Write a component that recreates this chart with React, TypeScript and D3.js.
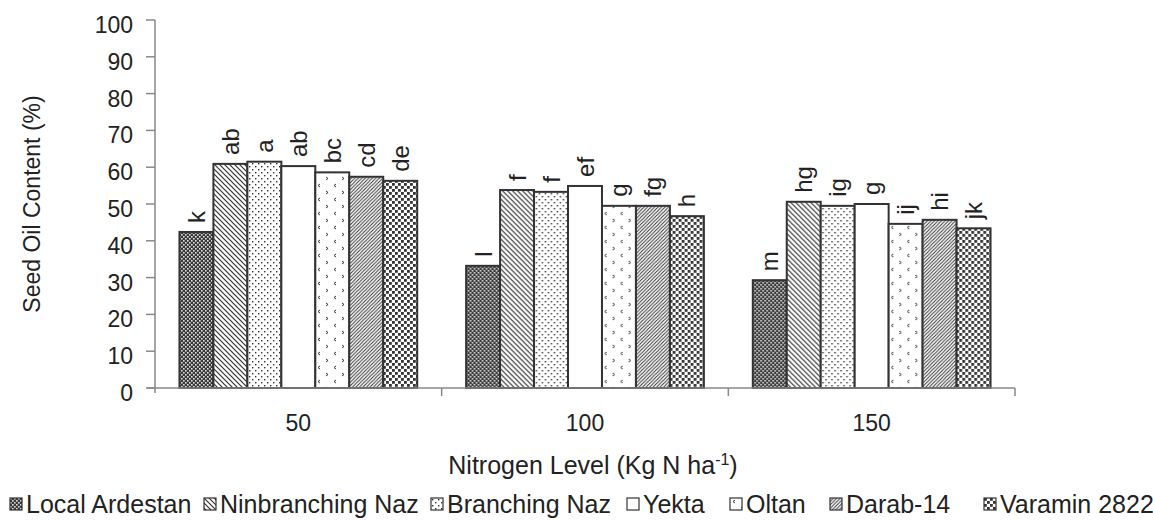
import React from "react";
import * as d3 from "d3";

const levels = ["50", "100", "150"];
const cultivars = [
  "Local Ardestan",
  "Ninbranching Naz",
  "Branching Naz",
  "Yekta",
  "Oltan",
  "Darab-14",
  "Varamin 2822",
];
// values per nitrogen level, in cultivar order
const oil50 = [42.4, 60.9, 61.5, 60.3, 58.6, 57.4, 56.3];
const oil100 = [33.2, 53.8, 53.3, 54.9, 49.5, 49.5, 46.7];
const oil150 = [29.3, 50.6, 49.5, 50.0, 44.6, 45.7, 43.4];
const letters50 = ["k", "ab", "a", "ab", "bc", "cd", "de"];
const letters100 = ["l", "f", "f", "ef", "g", "fg", "h"];
const letters150 = ["m", "hg", "ig", "g", "ij", "hi", "jk"];
const yTicks = [0, 10, 20, 30, 40, 50, 60, 70, 80, 90, 100];

const values = [oil50, oil100, oil150];
const letters = [letters50, letters100, letters150];
const patternIds = ["p-local", "p-nin", "p-branch", "", "p-oltan", "p-darab", "p-varamin"];

// legend patch left edges
const legendX = [10, 204, 431, 627, 730, 830, 984];

const FONT = "'Liberation Sans', Arial, sans-serif";
const INK = "#333";

const App = () => {
  const x0 = d3.scaleBand().domain(levels).range([155, 1015]).padding(0);
  const x1 = d3
    .scaleBand()
    .domain(cultivars)
    .range([0, x0.bandwidth()])
    .paddingInner(0)
    .paddingOuter(0.72);
  const y = d3.scaleLinear().domain([0, 100]).range([388, 20]);

  const fillOf = (i) => (patternIds[i] ? `url(#${patternIds[i]})` : "#fff");

  return (
    <svg
      width={1153}
      height={521}
      style={{ position: "absolute", left: 0, top: 0, background: "#fff" }}
      fontFamily={FONT}
    >
      <defs>
        <pattern id="p-local" width={4} height={4} patternUnits="userSpaceOnUse">
          <rect width={4} height={4} fill="#3a3a3a" />
          <rect x={0} y={0} width={1.6} height={1.6} fill="#e0e0e0" />
          <rect x={2} y={2} width={1.6} height={1.6} fill="#e0e0e0" />
        </pattern>
        <pattern id="p-nin" width={5} height={5} patternUnits="userSpaceOnUse">
          <rect width={5} height={5} fill="#fff" />
          <path d="M0,0 L5,5 M-1,4 L1,6 M4,-1 L6,1" stroke={INK} strokeWidth={1.2} />
        </pattern>
        <pattern id="p-branch" width={6} height={6} patternUnits="userSpaceOnUse">
          <rect width={6} height={6} fill="#fff" />
          <rect x={1} y={1} width={1.4} height={1.4} fill={INK} />
          <rect x={4} y={4} width={1.4} height={1.4} fill={INK} />
        </pattern>
        <pattern id="p-oltan" width={16} height={14} patternUnits="userSpaceOnUse">
          <rect width={16} height={14} fill="#fff" />
          <path d="M5,2 L3,3.5 L5,5" stroke={INK} strokeWidth={1} fill="none" />
          <path d="M11,9 L13,10.5 L11,12" stroke={INK} strokeWidth={1} fill="none" />
        </pattern>
        <pattern id="p-darab" width={3.5} height={3.5} patternUnits="userSpaceOnUse">
          <rect width={3.5} height={3.5} fill="#fff" />
          <path d="M0,3.5 L3.5,0 M-1,1 L1,-1 M2.5,4.5 L4.5,2.5" stroke={INK} strokeWidth={1} />
        </pattern>
        <pattern id="p-varamin" width={6} height={6} patternUnits="userSpaceOnUse">
          <rect width={6} height={6} fill="#fff" />
          <rect x={0} y={0} width={2.8} height={2.8} fill={INK} />
          <rect x={3} y={3} width={2.8} height={2.8} fill={INK} />
        </pattern>
      </defs>

      {/* y axis */}
      <line x1={155} x2={155} y1={y(100)} y2={y(0) + 5} stroke="#888" strokeWidth={1.5} />
      {yTicks.map((t) => (
        <g key={t}>
          <line x1={146} x2={155} y1={y(t)} y2={y(t)} stroke="#888" strokeWidth={1.5} />
          <text x={133} y={y(t) + 5} dy="0.35em" textAnchor="end" fontSize={23} fill="#222">
            {t}
          </text>
        </g>
      ))}

      {/* bars */}
      {levels.map((lv, gi) => (
        <g key={lv} transform={`translate(${x0(lv)},0)`}>
          {cultivars.map((c, i) => {
            const v = values[gi][i];
            const bx = x1(c);
            return (
              <g key={c}>
                <rect
                  x={bx}
                  y={y(v)}
                  width={x1.bandwidth()}
                  height={y(0) - y(v)}
                  fill={fillOf(i)}
                  stroke={INK}
                  strokeWidth={2}
                />
                <text
                  transform={`translate(${bx + x1.bandwidth() / 2},${y(v) - 9}) rotate(-90)`}
                  dominantBaseline="central"
                  fontSize={24}
                  fill="#222"
                >
                  {letters[gi][i]}
                </text>
              </g>
            );
          })}
        </g>
      ))}

      {/* x axis */}
      <line x1={147} x2={1015} y1={y(0)} y2={y(0)} stroke="#888" strokeWidth={1.5} />
      {[...levels.map((l) => x0(l)), 1015].map((bx, i) =>
        i === 0 ? null : (
          <line key={i} x1={bx} x2={bx} y1={y(0)} y2={y(0) + 8} stroke="#888" strokeWidth={1.5} />
        )
      )}
      {levels.map((lv) => (
        <text
          key={lv}
          x={x0(lv) + x0.bandwidth() / 2}
          y={431}
          textAnchor="middle"
          fontSize={23}
          fill="#222"
        >
          {lv}
        </text>
      ))}

      {/* axis titles */}
      <text x={593} y={474} textAnchor="middle" fontSize={25} fill="#222">
        Nitrogen Level (Kg N ha
        <tspan dy={-9} fontSize={16}>-1</tspan>
        <tspan dy={9}>)</tspan>
      </text>
      <text
        transform={`translate(40,${y(50)}) rotate(-90)`}
        textAnchor="middle"
        fontSize={23}
        fill="#222"
      >
        Seed Oil Content (%)
      </text>

      {/* legend */}
      {cultivars.map((c, i) => (
        <g key={c} transform={`translate(${legendX[i]},498)`}>
          <rect x={0} y={0} width={12} height={12} fill={fillOf(i)} stroke={INK} strokeWidth={1.2} />
          <text x={16} y={15} fontSize={25} fill="#222">
            {c}
          </text>
        </g>
      ))}
    </svg>
  );
};

export default App;
